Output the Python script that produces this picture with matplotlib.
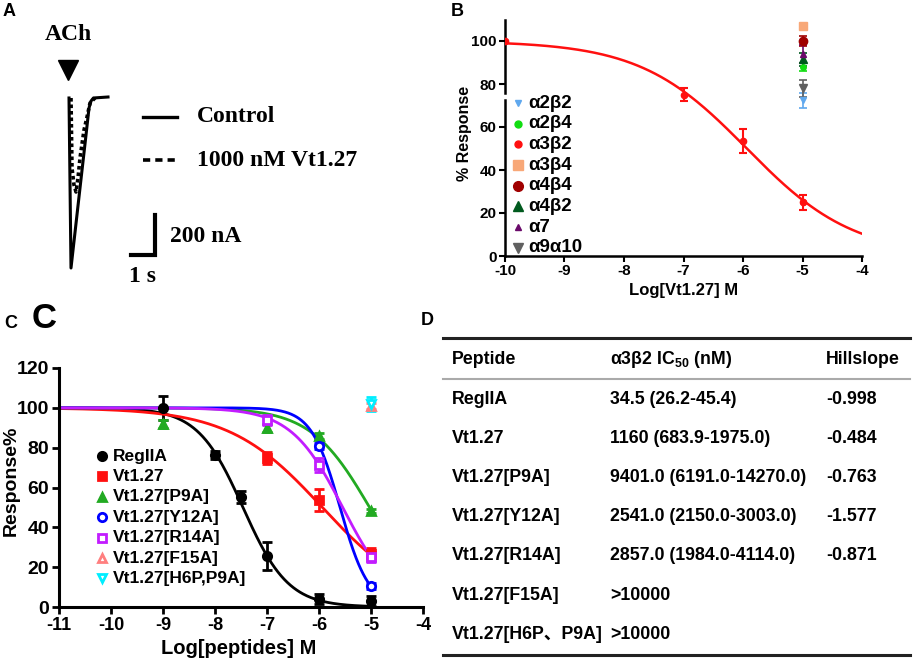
import numpy as np
import matplotlib
matplotlib.use("Agg")
import matplotlib.pyplot as plt
from matplotlib.lines import Line2D
from matplotlib import transforms

plt.rcParams["font.family"] = ["Liberation Sans", "Noto Sans CJK SC"]
plt.rcParams["font.weight"] = "bold"
plt.rcParams["axes.labelweight"] = "bold"
plt.rcParams["axes.unicode_minus"] = False
plt.rcParams["mathtext.fontset"] = "custom"
plt.rcParams["mathtext.rm"] = "Liberation Sans:bold"
plt.rcParams["mathtext.bf"] = "Liberation Sans:bold"
plt.rcParams["mathtext.it"] = "Liberation Sans:bold"

W, H = 913, 661

# ---- A: current traces (time s, current nA)
ctrl_t = [0.042, 0.125, 0.5, 0.75, 0.875, 0.96, 1.06, 1.667]
ctrl_i = [-5, -855, -455, -190, -55, -20, -5, 0]
vt_t = [0.125, 0.167, 0.25, 0.333, 0.417, 0.5, 0.667, 0.792, 0.917, 1.125]
vt_i = [-5, -355, -440, -475, -405, -305, -165, -100, -30, -5]

# ---- B: Vt1.27 on a3b2 and other subtypes at 10 uM
b_x = [-10, -7, -6, -5]
b_y = [100, 75, 53.5, 25]
b_err = [0, 3, 5.5, 3.5]
b_ic50 = 1160.0
b_hill = -0.484
sub_names = ["α2β2", "α2β4", "α3β2", "α3β4", "α4β4", "α4β2", "α7", "α9α10"]
sub_colors = ["#5fa8ee", "#11dd11", "#ff1010", "#f8a878", "#a00000", "#005a1e", "#6a0a6a", "#606060"]
sub_markers = ["v", "o", "o", "s", "o", "^", "^", "v"]
sub_ms = [5, 5, 5, 7, 7, 7, 5, 7]
sub_y = [72.5, 88, 25, 107, 100, 91.5, 94, 78]
sub_err = [3.5, 2, 3.5, 0, 2.3, 3, 4, 4]

# ---- C: alanine mutants on a3b2
pep_names = ["RegIIA", "Vt1.27", "Vt1.27[P9A]", "Vt1.27[Y12A]",
             "Vt1.27[R14A]", "Vt1.27[F15A]", "Vt1.27[H6P,P9A]"]
pep_colors = ["#000000", "#ff1010", "#22aa22", "#0000ff", "#c21cff", "#ff7f7f", "#00eeff"]
pep_markers = ["o", "s", "^", "o", "s", "^", "v"]
pep_filled = [True, True, True, False, False, False, False]
regiia_x = [-9, -8, -7.5, -7, -6, -5]
regiia_y = [100, 76.5, 55, 25.5, 4, 3]
regiia_err = [6, 2, 3, 7, 2.5, 2.5]
vt127_x = [-7, -6, -5]
vt127_y = [75, 53.5, 26.5]
vt127_err = [3, 5.5, 3]
p9a_x = [-9, -7, -6, -5]
p9a_y = [92, 90, 86, 48]
p9a_err = [2, 2, 1.5, 1]
y12a_x = [-6, -5]
y12a_y = [81, 10.5]
y12a_err = [1.5, 1.5]
r14a_x = [-7, -6, -5]
r14a_y = [94, 71.5, 25]
r14a_err = [2.5, 3.5, 2.5]
f15a_x = [-5]
f15a_y = [101]
f15a_err = [1.5]
h6p_x = [-5]
h6p_y = [102]
h6p_err = [3.5]
pep_ic50 = [34.5, 1160.0, 9401.0, 2541.0, 2857.0, None, None]
pep_hill = [-0.998, -0.484, -0.763, -1.577, -0.871, None, None]

# ---- D: table
tab_header = ["Peptide", "α3β2 IC$_{50}$ (nM)", "Hillslope"]
tab_peptide = ["RegIIA", "Vt1.27", "Vt1.27[P9A]", "Vt1.27[Y12A]",
               "Vt1.27[R14A]", "Vt1.27[F15A]", "Vt1.27[H6P、P9A]"]
tab_ic50 = ["34.5 (26.2-45.4)", "1160 (683.9-1975.0)", "9401.0 (6191.0-14270.0)",
            "2541.0 (2150.0-3003.0)", "2857.0 (1984.0-4114.0)", ">10000", ">10000"]
tab_hill = ["-0.998", "-0.484", "-0.763", "-1.577", "-0.871", "", ""]


def hill(x, ic50_nm, slope):
    return 100.0 / (1.0 + 10 ** ((np.log10(ic50_nm * 1e-9) - x) * slope))


def box(l, t, r, b):
    return [l / W, 1 - b / H, (r - l) / W, (b - t) / H]


def ftext(x, y, s, **kw):
    kw.setdefault("va", "center")
    return fig.text(x / W, 1 - y / H, s, **kw)


def fline(xs, ys, **kw):
    fig.add_artist(Line2D([v / W for v in xs], [1 - v / H for v in ys], **kw))


fig = plt.figure(figsize=(W / 100, H / 100), dpi=100)

# panel letters
ftext(3, 12, "A", fontsize=13)
ftext(451, 12, "B", fontsize=13)
ftext(4, 323, "C", fontsize=13)
ftext(32, 318, "C", fontsize=25)
ftext(421, 320, "D", fontsize=13)

# ================= A
serif = "Liberation Serif"
axA = fig.add_axes(box(0, 0, 460, 300))
axA.set_axis_off()
axA.set_xlim(-68 / 24, 392 / 24)
axA.set_ylim(-1015, 485)
axA.plot(ctrl_t, ctrl_i, color="black", lw=2.2, solid_joinstyle="round")
axA.plot(vt_t, vt_i, color="black", lw=2.6, dashes=(1.0, 0.8))
axA.plot([0], [135], marker="v", ms=14, color="black")
axA.text(0, 310, "ACh", ha="center", va="center", family=serif, fontsize=17)
axA.plot([2.625, 3.625, 3.625], [-790, -790, -590], color="black", lw=3,
         solid_joinstyle="miter")
fline([143, 177], [117, 117], color="black", lw=2.4)
fline([143, 177], [160, 160], color="black", lw=2.6, dashes=(2.0, 1.4))
ftext(197, 117, "Control", family=serif, fontsize=17)
ftext(197, 160, "1000 nM Vt1.27", family=serif, fontsize=17)
ftext(170, 237, "200 nA", family=serif, fontsize=17)
ftext(129, 276, "1 s", family=serif, fontsize=17)

# ================= B
axB = fig.add_axes(box(505, 19.5, 862, 256))
xx = np.linspace(-10, -4, 300)
axB.plot(xx, hill(xx, b_ic50, b_hill), color="#ff1010", lw=1.8)
axB.errorbar(b_x, b_y, yerr=b_err, fmt="o", color="#ff1010", ms=4.5,
             capsize=3, elinewidth=1.5, capthick=1.5)
for i in range(len(sub_names)):
    axB.errorbar([-5], [sub_y[i]], yerr=[sub_err[i]], fmt=sub_markers[i],
                 color=sub_colors[i], ms=sub_ms[i] - 1, capsize=3,
                 elinewidth=1.2, capthick=1.2)
axB.set_xlim(-10, -4)
axB.set_ylim(0, 110)
axB.set_xticks(range(-10, -3))
axB.set_yticks(range(0, 101, 20))
for s in ["top", "right", "left"]:
    axB.spines[s].set_visible(False)
axB.spines["bottom"].set_linewidth(1.8)
tr = transforms.blended_transform_factory(axB.transAxes, axB.transData)
axB.plot([0, 0], [0, 72.6], transform=tr, color="black", lw=1.8, clip_on=False)
axB.plot([0, 0], [75.8, 110], transform=tr, color="black", lw=1.8, clip_on=False)
axB.tick_params(direction="out", length=4, width=1.5, labelsize=11, pad=2)
axB.set_xlabel("Log[Vt1.27] M", fontsize=12, labelpad=3)
ftext(465, 133, "% Response", rotation=90, ha="center", fontsize=11.5)
for i, name in enumerate(sub_names):
    y = 103 + i * 20.7
    fig.add_artist(Line2D([518 / W], [1 - y / H], marker=sub_markers[i],
                          color=sub_colors[i], ms=sub_ms[i], ls="none"))
    ftext(528, y, name, fontsize=13.5)

# ================= C
axC = fig.add_axes(box(59, 368, 423, 607))
series = [(regiia_x, regiia_y, regiia_err), (vt127_x, vt127_y, vt127_err),
          (p9a_x, p9a_y, p9a_err), (y12a_x, y12a_y, y12a_err),
          (r14a_x, r14a_y, r14a_err), (f15a_x, f15a_y, f15a_err),
          (h6p_x, h6p_y, h6p_err)]
xc = np.linspace(-11, -5, 400)
for i, (sx, sy, se) in enumerate(series):
    col = pep_colors[i]
    if pep_ic50[i] is not None:
        axC.plot(xc, hill(xc, pep_ic50[i], pep_hill[i]), color=col, lw=2.0)
    axC.errorbar(sx, sy, yerr=se, fmt=pep_markers[i], color=col, ms=6,
                 mfc=col if pep_filled[i] else "white", mew=2,
                 capsize=3.5, elinewidth=2, capthick=2)
axC.set_xlim(-11, -4)
axC.set_ylim(0, 120)
axC.set_xticks(range(-11, -3))
axC.set_yticks(range(0, 121, 20))
for s in ["top", "right"]:
    axC.spines[s].set_visible(False)
for s in ["left", "bottom"]:
    axC.spines[s].set_linewidth(2.2)
axC.tick_params(direction="out", length=5, width=2)
axC.tick_params(axis="y", labelsize=14, pad=2)
axC.tick_params(axis="x", labelsize=13, pad=2)
ftext(239, 648, "Log[peptides] M", ha="center", fontsize=14.5)
ftext(11, 481, "Response%", rotation=90, ha="center", fontsize=14)
for i, name in enumerate(pep_names):
    y = 456 + i * 20.4
    fig.add_artist(Line2D([102 / W], [1 - y / H], marker=pep_markers[i],
                          color=pep_colors[i], ms=6, mew=2,
                          mfc=pep_colors[i] if pep_filled[i] else "white",
                          ls="none"))
    ftext(113, y, name, fontsize=12.5)

# ================= D
fline([443, 910], [338, 338], color="#222222", lw=2.2)
fline([443, 910], [379, 379], color="#aaaaaa", lw=1.5)
fline([443, 910], [655, 655], color="#222222", lw=2.2)
col_x = [452, 610, 826]
for j, h in enumerate(tab_header):
    ftext(col_x[j], 360, h, fontsize=12.8)
for i in range(len(tab_peptide)):
    y = 399 + i * 39.2
    ftext(col_x[0], y, tab_peptide[i], fontsize=12.8)
    ftext(col_x[1], y, tab_ic50[i], fontsize=12.8)
    ftext(col_x[2], y, tab_hill[i], fontsize=12.8)

fig.savefig("out.png", dpi=100)
